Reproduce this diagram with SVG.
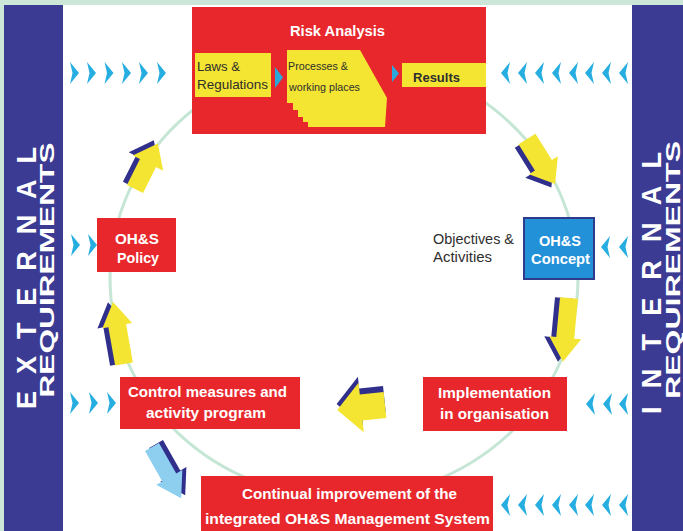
<svg xmlns="http://www.w3.org/2000/svg" xmlns:xlink="http://www.w3.org/1999/xlink" width="683" height="531" viewBox="0 0 683 531">
<style>
.red{fill:#e8272c}
.yel{fill:#f4e532}
.band{fill:#3b3b94}
.chev{fill:#27aee0}
.ay{fill:#f4e532}
.ash{fill:#302f8c}
.alb{fill:#8ecff0}
.wt{font-family:"Liberation Sans",Arial,sans-serif;font-weight:bold;fill:#ffffff;text-anchor:middle}
.dk{font-family:"Liberation Sans",Arial,sans-serif;fill:#2e2e2e}
.side{font-family:"Liberation Sans",Arial,sans-serif;font-weight:bold;fill:#ffffff;text-anchor:middle}
</style>
<defs>
<polygon id="chR" points="0,0 9,11 0,22 2.5,11"/>
<polygon id="chL" points="9,0 0,11 9,22 6.5,11"/>
</defs>
<rect x="0" y="0" width="683" height="531" fill="#cce7d7"/>
<rect x="63" y="5" width="569" height="526" fill="#ffffff"/>
<g id="external-band">
<rect class="band" x="4" y="5" width="59" height="526"/>
<text class="side" font-size="27" transform="translate(36,278) rotate(-90)" textLength="262" lengthAdjust="spacing">E X T E R N A L</text>
<text class="side" font-size="21" transform="translate(54,270) rotate(-90)" textLength="255" lengthAdjust="spacingAndGlyphs">REQUIREMENTS</text>
</g>
<g id="internal-band">
<rect class="band" x="632" y="5" width="51" height="526"/>
<text class="side" font-size="27" transform="translate(661,283) rotate(-90)" textLength="262" lengthAdjust="spacing">I N T E R N A L</text>
<text class="side" font-size="21" transform="translate(680,270) rotate(-90)" textLength="258" lengthAdjust="spacingAndGlyphs">REQUIREMENTS</text>
</g>
<g id="connectors">
<ellipse cx="344" cy="278" rx="234" ry="220" fill="none" stroke="#c6e6d5" stroke-width="3"/>
<g class="chev">
<use xlink:href="#chR" x="70" y="62"/><use xlink:href="#chR" x="87" y="62"/><use xlink:href="#chR" x="104.5" y="62"/><use xlink:href="#chR" x="122" y="62"/><use xlink:href="#chR" x="139" y="62"/><use xlink:href="#chR" x="157" y="62"/>
<use xlink:href="#chL" x="501" y="62"/><use xlink:href="#chL" x="518" y="62"/><use xlink:href="#chL" x="535" y="62"/><use xlink:href="#chL" x="552" y="62"/><use xlink:href="#chL" x="569" y="62"/><use xlink:href="#chL" x="585" y="62"/><use xlink:href="#chL" x="602" y="62"/><use xlink:href="#chL" x="619" y="62"/>
<use xlink:href="#chR" x="71" y="234"/><use xlink:href="#chR" x="88" y="234"/>
<use xlink:href="#chL" x="601" y="236"/><use xlink:href="#chL" x="619" y="236"/>
<use xlink:href="#chR" x="70" y="392"/><use xlink:href="#chR" x="89" y="392"/><use xlink:href="#chR" x="107" y="392"/>
<use xlink:href="#chL" x="586" y="393"/><use xlink:href="#chL" x="603" y="393"/><use xlink:href="#chL" x="619" y="393"/>
<use xlink:href="#chL" x="501" y="494"/><use xlink:href="#chL" x="518" y="494"/><use xlink:href="#chL" x="535" y="494"/><use xlink:href="#chL" x="552" y="494"/><use xlink:href="#chL" x="569" y="494"/><use xlink:href="#chL" x="585" y="494"/><use xlink:href="#chL" x="602" y="494"/><use xlink:href="#chL" x="619" y="494"/>
</g>
<g transform="translate(135,189) rotate(-63.4)">
<polygon class="ash" transform="translate(1,-5)" points="0,-9 29,-9 29,-17 51,0 29,17 29,9 0,9"/>
<polygon class="ay" points="0,-9 29,-9 29,-17 51,0 29,17 29,9 0,9"/>
</g>
<g transform="translate(124,364) rotate(-100)">
<polygon class="ash" transform="translate(0.7,-5)" points="0,-9 39,-9 39,-15 63,0 39,15 39,9 0,9"/>
<polygon class="ay" points="0,-9 39,-9 39,-15 63,0 39,15 39,9 0,9"/>
</g>
<g transform="translate(527,139) rotate(58)">
<polygon class="ash" transform="translate(1,5)" points="0,-10 31,-10 31,-17 53,0 31,17 31,10 0,10"/>
<polygon class="ay" points="0,-10 31,-10 31,-17 53,0 31,17 31,10 0,10"/>
</g>
<g transform="translate(569,298) rotate(95.4)">
<polygon class="ash" transform="translate(0.5,5)" points="0,-9 40,-9 40,-16 64,0 40,16 40,9 0,9"/>
<polygon class="ay" points="0,-9 40,-9 40,-16 64,0 40,16 40,9 0,9"/>
</g>
<g transform="translate(385,405) rotate(174)">
<polygon class="ash" transform="translate(0,6)" points="0,-13 24,-13 24,-25 48,0 24,25 24,13 0,13"/>
<polygon class="ay" points="0,-13 24,-13 24,-25 48,0 24,25 24,13 0,13"/>
</g>
<g transform="translate(152,447) rotate(60.4)">
<polygon class="ash" transform="translate(-0.6,-5)" points="0,-8 35,-8 35,-15 59,0 35,15 35,8 0,8"/>
<polygon class="alb" points="0,-8 35,-8 35,-15 59,0 35,15 35,8 0,8"/>
</g>
</g>
<g id="risk-analysis">
<rect class="red" x="192" y="7" width="294" height="127"/>
<text class="wt" x="337.5" y="36" font-size="14" textLength="95" lengthAdjust="spacingAndGlyphs">Risk Analysis</text>
<rect class="yel" x="195" y="53" width="76" height="44"/>
<text class="dk" x="197" y="71" font-size="13" textLength="43" lengthAdjust="spacingAndGlyphs">Laws &amp;</text>
<text class="dk" x="197" y="89" font-size="13" textLength="71" lengthAdjust="spacingAndGlyphs">Regulations</text>
<polygon points="275,67 283,77.5 275,88" fill="#2aa8dc"/>
<polygon class="yel" points="287,50 360,50 387,98 385,127 308,127 308,122 303,122 303,117 298,117 298,110 293,110 293,103 287,103"/>
<text class="dk" x="288" y="70" font-size="11" textLength="60" lengthAdjust="spacingAndGlyphs">Processes &amp;</text>
<text class="dk" x="289" y="91" font-size="11" textLength="71" lengthAdjust="spacingAndGlyphs">working places</text>
<polygon points="392,65 399,73.5 392,82" fill="#2aa8dc"/>
<rect class="yel" x="402" y="63" width="84" height="24"/>
<text class="dk" x="413" y="82" font-size="13" font-weight="bold" textLength="47" lengthAdjust="spacingAndGlyphs">Results</text>
</g>
<g id="ohs-policy">
<rect class="red" x="97" y="218" width="79" height="54"/>
<text class="wt" x="137" y="244" font-size="15" textLength="44" lengthAdjust="spacingAndGlyphs">OH&amp;S</text>
<text class="wt" x="138" y="263" font-size="15" textLength="42" lengthAdjust="spacingAndGlyphs">Policy</text>
</g>
<g id="ohs-concept">
<rect x="524" y="218" width="70" height="61" fill="#2391d8" stroke="#2e3a8c" stroke-width="2"/>
<text class="wt" x="560" y="246" font-size="15" textLength="42" lengthAdjust="spacingAndGlyphs">OH&amp;S</text>
<text class="wt" x="560.5" y="264" font-size="15" textLength="59" lengthAdjust="spacingAndGlyphs">Concept</text>
</g>
<g id="objectives">
<text class="dk" x="433" y="244" font-size="14" textLength="81" lengthAdjust="spacingAndGlyphs">Objectives &amp;</text>
<text class="dk" x="433" y="262" font-size="14" textLength="59" lengthAdjust="spacingAndGlyphs">Activities</text>
</g>
<g id="control-measures">
<rect class="red" x="120" y="377" width="180" height="52"/>
<text class="wt" x="207.5" y="397" font-size="14" textLength="159" lengthAdjust="spacingAndGlyphs">Control measures and</text>
<text class="wt" x="206" y="418" font-size="14" textLength="120" lengthAdjust="spacingAndGlyphs">activity program</text>
</g>
<g id="implementation">
<rect class="red" x="423" y="377" width="144" height="54"/>
<text class="wt" x="494.5" y="398" font-size="14" textLength="113" lengthAdjust="spacingAndGlyphs">Implementation</text>
<text class="wt" x="494.5" y="419" font-size="14" textLength="109" lengthAdjust="spacingAndGlyphs">in organisation</text>
</g>
<g id="continual-improvement">
<rect class="red" x="201" y="476" width="292" height="55"/>
<text class="wt" x="349.5" y="499" font-size="15" textLength="215" lengthAdjust="spacingAndGlyphs">Continual improvement of the</text>
<text class="wt" x="347.5" y="524" font-size="15" textLength="285" lengthAdjust="spacingAndGlyphs">integrated OH&amp;S Management System</text>
</g>
</svg>
